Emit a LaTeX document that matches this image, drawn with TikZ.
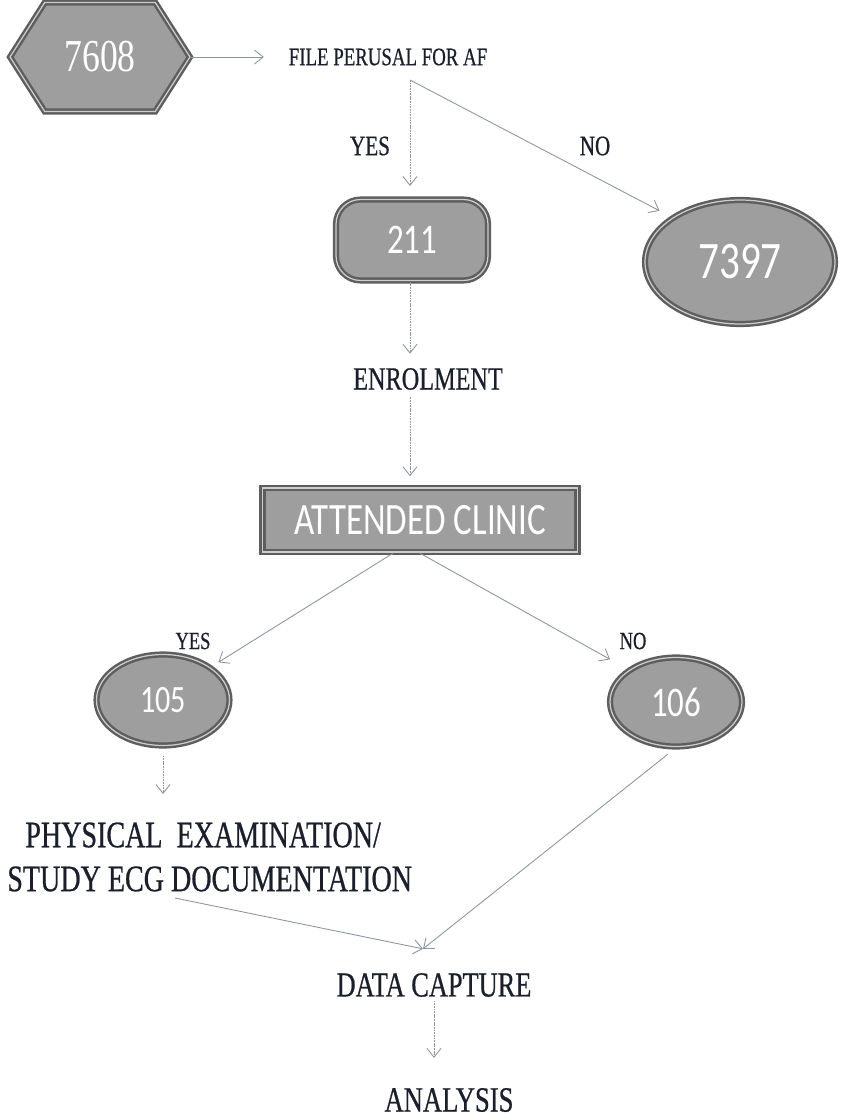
\documentclass[tikz,border=0pt]{standalone}
\usepackage{fontspec}
\setmainfont{Liberation Serif}[FakeStretch=0.75,FakeBold=0.6]
\newfontfamily\numfont{Carlito}[FakeStretch=0.78]
\newfontfamily\hexfont{Liberation Serif}[FakeStretch=0.78]
\usepackage{tikz}
\usetikzlibrary{arrows.meta}
\usetikzlibrary{shapes.geometric}
\usetikzlibrary{shapes.symbols}
\definecolor{inkcol}{HTML}{1A1F2B}
\definecolor{linecol}{HTML}{8E959E}
\definecolor{fillcol}{HTML}{9E9E9E}
\definecolor{edgecol}{HTML}{5E5E5E}
\definecolor{rimcol}{HTML}{CDCDCD}

\begin{document}
\begin{tikzpicture}[x=0.02cm,y=-0.02cm,>={Straight Barb[length=5pt,width=8pt]}]
  \tikzset{box/.style={draw=edgecol,line width=1.4pt,double=rimcol,double distance=0.7pt,fill=fillcol,text=white,inner sep=0pt,font=\numfont\fontsize{24}{24}\selectfont}}
  \tikzset{lbl/.style={inner sep=0pt,text=inkcol,font=\fontsize{#1}{#1}\selectfont}}
  \tikzset{link/.style={->,draw=linecol,line width=0.5pt}}
  \tikzset{dotlink/.style={link,dash pattern=on 1pt off 0.5pt}}
  \useasboundingbox (0,0) rectangle (843,1118);

  \node[box,signal,signal to=east and west,signal pointer angle=115,minimum width=3.6cm,minimum height=2.18cm,font=\hexfont\fontsize{26}{26}\selectfont] (n7608) at (100,57) {7608};
  \node[lbl=14.3] (perusal) at (388,57) {FILE PERUSAL FOR AF};
  \node[lbl=16] (yesA) at (370,146) {YES};
  \node[lbl=16] (noA) at (595,146) {NO};
  \node[box,rounded corners=14pt,minimum width=3.04cm,minimum height=1.62cm] (n211) at (412,240) {211};
  \node[box,ellipse,minimum width=3.8cm,minimum height=2.48cm,font=\numfont\fontsize{30}{30}\selectfont] (n7397) at (740,262) {7397};
  \node[lbl=18.4] (enrol) at (428,379) {ENROLMENT};
  \node[box,minimum width=6.3cm,minimum height=1.28cm,font=\numfont\fontsize{25.5}{25.5}\selectfont] (clinic) at (420,520) {ATTENDED CLINIC};
  \node[lbl=14] (yesB) at (193,641) {YES};
  \node[lbl=14] (noB) at (633,641) {NO};
  \node[box,ellipse,minimum width=2.66cm,minimum height=1.82cm,font=\numfont\fontsize{22}{22}\selectfont] (n105) at (163,700) {105};
  \node[box,ellipse,minimum width=2.64cm,minimum height=1.78cm] (n106) at (676,702) {106};
  \node[lbl=21.3,font=\fontsize{21.3}{25}\selectfont,align=left,anchor=west] (exam) at (7,857) {\hspace*{0.36cm}PHYSICAL\ \ EXAMINATION/\\STUDY ECG DOCUMENTATION};
  \node[lbl=20] (datacap) at (434,985) {DATA CAPTURE};
  \node[lbl=20.2] (analysis) at (449,1100) {ANALYSIS};

  \coordinate (fork) at (410,80);
  \coordinate (docstart) at (175,898);
  \coordinate (merge) at ([xshift=-0.22cm,yshift=0.48cm]datacap.north);

  \draw[link,shorten >=14pt] (n7608.east) -- (perusal.west);
  \draw[dotlink,shorten >=7pt] (fork) -- (fork |- n211.north);
  \draw[link,shorten >=8pt] (fork) -- (n7397.north west);
  \draw[dotlink,shorten >=8pt] (n211.south -| fork) -- (fork |- enrol.north);
  \draw[dotlink,shorten <=4pt,shorten >=6pt] (enrol.south -| fork) -- (clinic.north -| fork);
  \draw[link,shorten >=5pt] ([xshift=-0.54cm]clinic.south) -- (n105.north east);
  \draw[link,shorten >=12pt] (clinic.south) -- (n106.north west);
  \draw[dotlink,shorten <=5pt,shorten >=16pt] (n105.south) -- (n105.south |- exam.north);
  \draw[link] (docstart) -- (merge);
  \draw[link,shorten <=6pt] (n106.south) -- (merge);
  \draw[dotlink,shorten <=2pt,shorten >=17pt] (datacap.south) -- (datacap.south |- analysis.north);
\end{tikzpicture}
\end{document}
